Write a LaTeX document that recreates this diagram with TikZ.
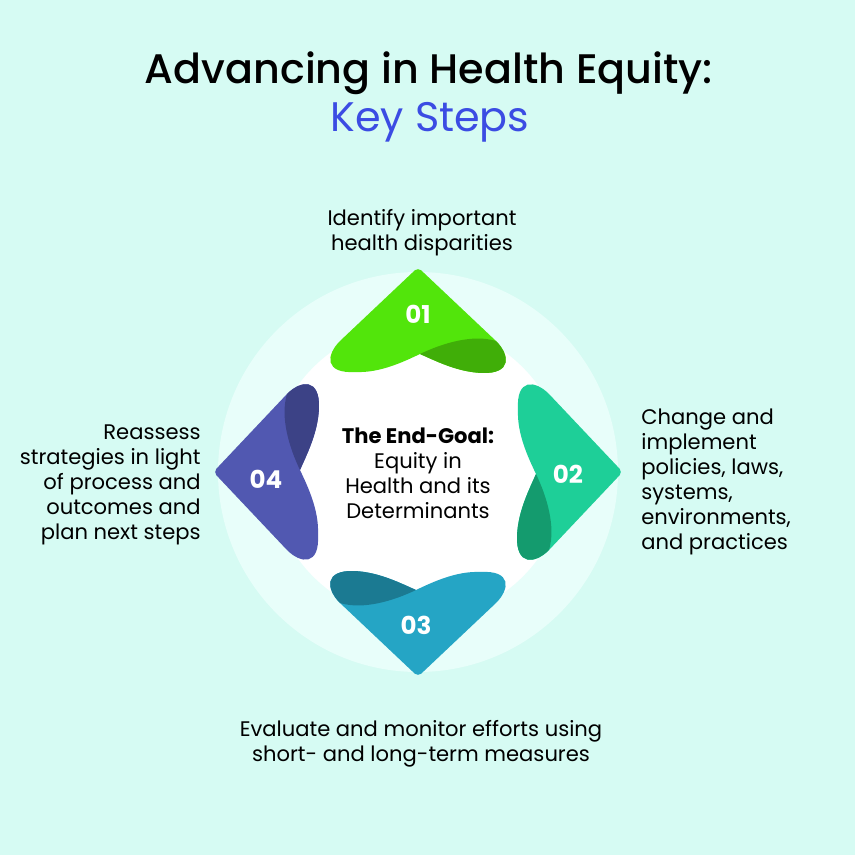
\documentclass[tikz,border=0pt]{standalone}
\usepackage{fontspec}
\setmainfont{Poppins}
\newfontfamily\headfont{Poppins Medium}
\usepackage{xcolor}
\usetikzlibrary{positioning}

\definecolor{mintbg}{HTML}{D6FBF3}
\definecolor{ringbg}{HTML}{E8FEFA}
\definecolor{keyblue}{HTML}{3B4CE3}
\definecolor{oneLite}{HTML}{52E50B}
\definecolor{oneDark}{HTML}{40AE08}
\definecolor{twoLite}{HTML}{1ECF98}
\definecolor{twoDark}{HTML}{149B6E}
\definecolor{threeLite}{HTML}{25A5C5}
\definecolor{threeDark}{HTML}{1B7A92}
\definecolor{fourLite}{HTML}{5158B1}
\definecolor{fourDark}{HTML}{3C4286}

\begin{document}
\begin{tikzpicture}[
    x=0.02cm, y=0.02cm,
    heading/.style={anchor=base, inner sep=0pt, font=\headfont\fontsize{23.5}{28}\selectfont},
    subheading/.style={anchor=base, inner sep=0pt, text=keyblue, font=\fontsize{23.5}{28}\selectfont},
    desc/.style={inner sep=0pt, align=center, font=\fontsize{12}{14.2}\selectfont},
    goal/.style={desc},
    num/.style={inner sep=0pt, text=white, font=\bfseries\fontsize{14}{16}\selectfont}
]
% Canvas and rings
\useasboundingbox (-418,-383) rectangle (437,472);
\fill[mintbg] (-418,-383) rectangle (437,472);
\fill[ringbg] (0,0) circle (200);
\fill[white] (0,0) circle (148);

% Folded step shapes
\foreach \rot/\lite/\dark in {0/oneLite/oneDark, -90/twoLite/twoDark, -180/threeLite/threeDark, -270/fourLite/fourDark}{
  \begin{scope}[rotate=\rot]
    \fill[\lite] (-6,199) .. controls (-2,204) and (2,204) .. (6,199) -- (78,131)
      .. controls (92,117) and (94,98) .. (64,99)
      .. controls (40,100) and (20,110) .. (2,118)
      .. controls (-15,110) and (-38,99) .. (-62,100)
      .. controls (-94,98) and (-92,117) .. (-78,131) -- cycle;
    \fill[\dark] (2,118) .. controls (25,129) and (55,138) .. (78,131)
      .. controls (92,117) and (94,98) .. (64,99)
      .. controls (40,100) and (20,110) .. (2,118) -- cycle;
  \end{scope}
}

% Step numbers
\node[num] (n1) at (0,158) {01};
\node[num] (n2) at (150,-2) {02};
\node[num] (n3) at (-2,-153) {03};
\node[num] (n4) at (-152,-7) {04};

% Title
\node[heading] (head) at (11,388) {Advancing in Health Equity:};
\node[subheading] (sub) at (12,340) {Key Steps};

% Centre goal
\node[goal] (goal) at (0,-1) {{\bfseries The End-Goal:}\\Equity in\\Health and its\\Determinants};

% Step descriptions
\node[desc] (d1) at (4,239) {Identify important\\health disparities};
\node[desc, align=left, anchor=west] (d2) at (223,-10) {Change and\\implement\\policies, laws,\\systems,\\environments,\\and practices};
\node[desc] (d3) at (3,-272) {Evaluate and monitor efforts using\\short- and long-term measures};
\node[desc, align=right, anchor=east] (d4) at (-217,-13) {Reassess\\strategies in light\\of process and\\outcomes and\\plan next steps};
\end{tikzpicture}
\end{document}
